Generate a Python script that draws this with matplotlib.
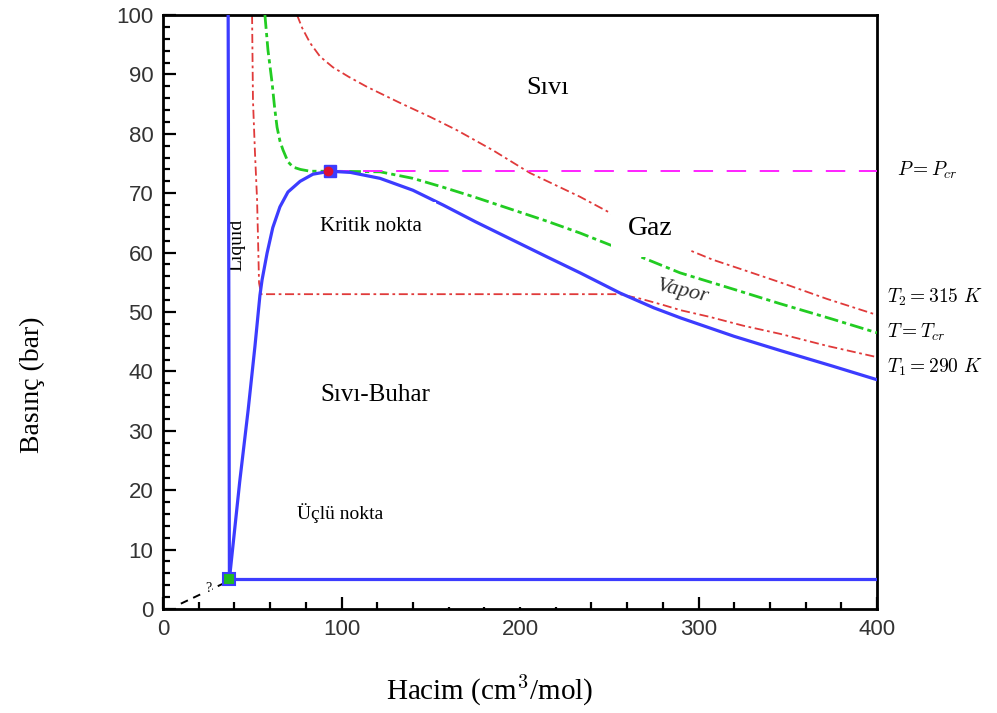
import matplotlib
matplotlib.use("Agg")
import matplotlib.pyplot as plt
from matplotlib.patches import Rectangle
from matplotlib.ticker import MultipleLocator

# --- Veri ---
# Doyma egrisi - sivi kolu
liq_v = [37.2, 36.9, 36.5]
liq_p = [5.0, 50.0, 100.0]

# Doyma egrisi - buhar kolu (kubbe)
vap_v = [37.2, 43.0, 47.7, 51.5, 54.3, 55.5, 58.3, 61.5, 65.5, 70.0, 76.8, 84.0, 93.5,
         105.0, 121.6, 140.0, 157.0, 175.0, 196.0, 215.0, 233.6, 256.0, 275.0, 290.0,
         320.0, 346.0, 375.0, 400.0]
vap_p = [5.0, 21.5, 33.5, 44.2, 52.8, 55.4, 59.9, 64.2, 67.7, 70.2, 72.0, 73.2, 73.7,
         73.5, 72.5, 70.5, 68.0, 65.2, 62.1, 59.3, 56.6, 53.2, 50.7, 49.0,
         45.9, 43.5, 40.9, 38.6]

# Kritik izoterm T = Tcr
tcr_v = [57.1, 58.8, 61.1, 62.5, 63.9, 65.5, 67.2, 70.0, 72.8, 77.0, 82.4, 93.5, 121.6,
         140.0, 157.0, 175.0, 196.0, 215.0, 233.6, 250.4, 270.0, 289.6, 320.0, 345.7,
         375.0, 400.0]
tcr_p = [100.0, 94.1, 88.6, 84.5, 81.1, 78.8, 77.3, 75.3, 74.4, 74.0, 73.7, 73.7, 73.6,
         72.5, 71.0, 69.3, 67.2, 65.3, 63.3, 61.3, 59.0, 56.6, 53.8, 51.4,
         48.8, 46.5]

# Izoterm T1 = 290 K
t1_v = [49.9, 50.4, 51.5, 52.7, 53.3, 53.8, 55.0, 256.0, 268.0, 280.0, 290.0, 306.0,
        325.0, 346.0, 372.0, 400.0]
t1_p = [100.0, 85.7, 77.0, 68.9, 61.5, 54.9, 53.0, 53.0, 52.2, 51.2, 50.3, 49.2,
        47.7, 46.3, 44.3, 42.4]

# Izoterm T2 = 315 K
t2_v = [75.1, 78.0, 82.4, 88.0, 95.2, 104.0, 114.3, 132.8, 150.0, 164.7, 185.0, 205.6,
        233.6, 250.4, 270.0, 295.0, 308.0, 325.0, 345.7, 372.0, 400.0]
t2_p = [100.0, 97.8, 95.3, 93.0, 91.2, 89.6, 87.9, 85.2, 82.8, 80.6, 77.2, 73.4,
        69.4, 66.7, 63.8, 60.4, 58.8, 57.1, 55.0, 52.2, 49.5]

# Kritik basinc cizgisi
pcr_v = [93.5, 400.0]
pcr_p = [73.8, 73.8]

# Katı-buhar (belirsiz) egrisi
sub_v = [10.0, 36.0]
sub_p = [0.9, 4.6]

# Sivi-katı-buhar ucluk cizgisi
triple_v = [37.2, 400.0]
triple_p = [5.0, 5.0]

crit_point = (93.5, 73.7)
triple_point = (37.2, 5.0)

blue = "#3c3cff"
red = "#e03a3a"
green = "#22cc22"
magenta = "#ff22ff"

serif = ["Liberation Serif", "DejaVu Serif"]
plt.rcParams["mathtext.fontset"] = "cm"

fig = plt.figure(figsize=(9.97, 7.13), dpi=100)
ax = fig.add_axes([163 / 997, 1 - 609 / 713, 714 / 997, 594 / 713])

ax.plot(t2_v, t2_p, color=red, lw=1.3, ls=(0, (5, 2, 1.5, 2)), zorder=2)
ax.plot(t1_v, t1_p, color=red, lw=1.3, ls=(0, (5, 2, 1.5, 2)), zorder=2)
ax.plot(tcr_v, tcr_p, color=green, lw=2.0, ls=(0, (5, 1.5, 1.5, 1.5)), zorder=3)
ax.plot(pcr_v, pcr_p, color=magenta, lw=1.4, ls=(0, (10, 7)), zorder=3)
ax.plot(liq_v, liq_p, color=blue, lw=2.3, zorder=4)
ax.plot(vap_v, vap_p, color=blue, lw=2.3, zorder=4)
ax.plot(triple_v, triple_p, color=blue, lw=2.3, zorder=4)
ax.plot(sub_v, sub_p, color="black", lw=1.4, ls=(0, (4, 3)), zorder=4)

ax.plot(*triple_point, marker="s", ms=8, mfc="#22bb22", mec=blue, mew=1.5, zorder=6)
ax.plot(*crit_point, marker="s", ms=8, mfc=blue, mec=blue, zorder=6)
ax.plot(crit_point[0] - 0.8, crit_point[1], marker="o", ms=6, mfc="#dd1133", mec="#dd1133", zorder=7)

ax.set_xlim(0, 400)
ax.set_ylim(0, 100)
ax.xaxis.set_major_locator(MultipleLocator(100))
ax.xaxis.set_minor_locator(MultipleLocator(20))
ax.yaxis.set_major_locator(MultipleLocator(10))
ax.yaxis.set_minor_locator(MultipleLocator(2))
ax.tick_params(which="both", direction="in", top=False, right=False, width=1.6)
ax.tick_params(which="major", length=9, pad=7, labelsize=16, labelcolor="#333333")
ax.tick_params(which="minor", length=5)
for lab in ax.get_xticklabels() + ax.get_yticklabels():
    lab.set_family(["Liberation Sans", "DejaVu Sans"])
for sp in ax.spines.values():
    sp.set_linewidth(2.0)

# Alt kenardaki beyaz kutu
ax.add_patch(Rectangle((156.3, 0.4), 67.8, 3.8, facecolor="white", edgecolor="none", zorder=5))

ax.text(215.7, 87.7, "Sıvı", family=serif, fontsize=19, ha="center", va="center")
ax.text(273, 64.1, "Gaz", family=serif, fontsize=20, ha="center", va="center", zorder=5,
        bbox=dict(boxstyle="square,pad=0.6", facecolor="white", edgecolor="none"))
ax.text(116.3, 64.4, "Kritik nokta", family=serif, fontsize=15, ha="center", va="center", zorder=5,
        bbox=dict(boxstyle="square,pad=0.7", facecolor="white", edgecolor="none"))
ax.text(41.5, 61.3, "Liquid", family=serif, fontsize=14, rotation=90, ha="center", va="center")
ax.text(291, 53.4, "Vapor", family=serif, style="italic", fontsize=16, color="#333333",
        rotation=-13, ha="center", va="center")
ax.text(118.8, 36.0, "Sıvı-Buhar", family=serif, fontsize=18, ha="center", va="center")
ax.text(99.3, 16.2, "Üçlü nokta", family=serif, fontsize=14, ha="center", va="center")
ax.text(25.2, 3.4, "?", family=serif, fontsize=10, ha="center", va="center", zorder=5,
        bbox=dict(boxstyle="square,pad=0.1", facecolor="white", edgecolor="none"))

ax.text(411, 73.9, r"$P = P_{cr}$", fontsize=14, ha="left", va="center", clip_on=False)
ax.text(405.6, 52.4, r"$T_2 = 315\ K$", fontsize=14, ha="left", va="center", clip_on=False)
ax.text(405.6, 46.5, r"$T = T_{cr}$", fontsize=14, ha="left", va="center", clip_on=False)
ax.text(405.6, 40.7, r"$T_1 = 290\ K$", fontsize=14, ha="left", va="center", clip_on=False)

fig.text(32 / 997, 1 - 385 / 713, "Basınç (bar)", family=serif, fontsize=20,
         rotation=90, ha="center", va="center")
fig.text(490 / 997, 1 - 690 / 713, r"Hacim (cm$^3$/mol)", family=serif, fontsize=21,
         ha="center", va="center")

fig.savefig("out.png", dpi=100)
